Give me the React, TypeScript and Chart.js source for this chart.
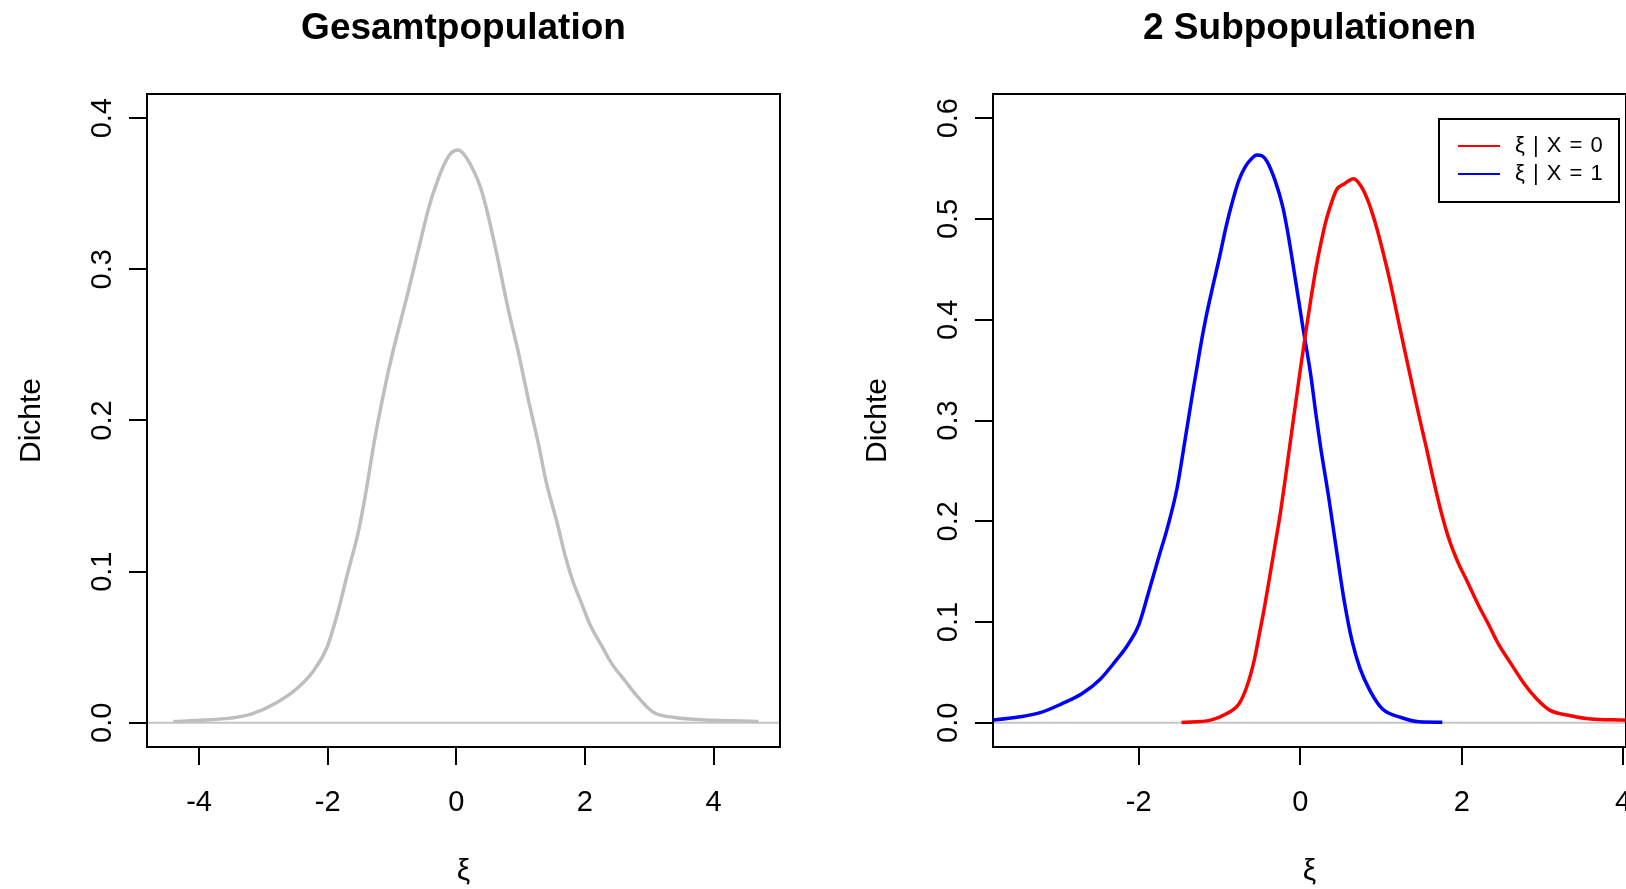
import React, { useEffect, useRef } from "react";
import { Chart, registerables } from "chart.js";

Chart.register(...registerables);

// ---------- data ----------
const grayX = [-4.4, -3.92, -3.52, -3.19, -2.79, -2.46, -2.22, -2.01, -1.85, -1.69, -1.52, -1.4, -1.28, -1.14, -1.0, -0.87, -0.75, -0.59, -0.42, -0.28, -0.17, -0.08, 0.03, 0.12, 0.26, 0.37, 0.47, 0.63, 0.8, 0.96, 1.12, 1.28, 1.4, 1.57, 1.69, 1.81, 1.93, 2.09, 2.26, 2.42, 2.62, 2.83, 3.07, 3.4, 3.88, 4.29, 4.7];
const grayY = [0.0008, 0.0018, 0.0031, 0.0058, 0.0135, 0.0234, 0.0345, 0.05, 0.072, 0.099, 0.127, 0.154, 0.185, 0.216, 0.243, 0.265, 0.285, 0.313, 0.342, 0.36, 0.371, 0.377, 0.379, 0.376, 0.366, 0.355, 0.34, 0.31, 0.275, 0.246, 0.214, 0.184, 0.159, 0.132, 0.111, 0.094, 0.081, 0.064, 0.051, 0.039, 0.028, 0.0168, 0.0068, 0.0035, 0.0018, 0.0013, 0.0009];

const blueX = [-3.95, -3.81, -3.47, -3.21, -2.96, -2.7, -2.48, -2.29, -2.13, -2.0, -1.876, -1.75, -1.65, -1.525, -1.43, -1.333, -1.238, -1.16, -1.08, -1.0, -0.919, -0.84, -0.761, -0.68, -0.6, -0.538, -0.47, -0.41, -0.315, -0.219, -0.155, -0.06, 0.036, 0.131, 0.195, 0.25, 0.354, 0.45, 0.545, 0.64, 0.736, 0.864, 1.02, 1.25, 1.47, 1.76];
const blueY = [0.0018, 0.0027, 0.006, 0.0103, 0.0186, 0.029, 0.043, 0.061, 0.078, 0.097, 0.13, 0.165, 0.192, 0.233, 0.279, 0.327, 0.372, 0.405, 0.434, 0.462, 0.492, 0.517, 0.538, 0.552, 0.56, 0.5635, 0.5625, 0.557, 0.539, 0.513, 0.487, 0.44, 0.391, 0.345, 0.306, 0.275, 0.223, 0.171, 0.121, 0.082, 0.055, 0.032, 0.0136, 0.0053, 0.001, 0.0006];

const redX = [-1.47, -1.11, -0.92, -0.76, -0.665, -0.57, -0.506, -0.442, -0.378, -0.315, -0.25, -0.187, -0.124, -0.06, 0.004, 0.068, 0.131, 0.195, 0.259, 0.322, 0.387, 0.45, 0.55, 0.66, 0.75, 0.84, 0.93, 1.02, 1.11, 1.2, 1.29, 1.38, 1.47, 1.565, 1.65, 1.74, 1.84, 1.95, 2.07, 2.2, 2.33, 2.456, 2.616, 2.776, 2.93, 3.09, 3.35, 3.6, 3.99, 4.3];
const redY = [0.0003, 0.0027, 0.0087, 0.0186, 0.035, 0.062, 0.088, 0.115, 0.145, 0.175, 0.206, 0.241, 0.278, 0.315, 0.352, 0.387, 0.42, 0.451, 0.477, 0.499, 0.516, 0.529, 0.535, 0.54, 0.533, 0.518, 0.496, 0.469, 0.439, 0.405, 0.371, 0.338, 0.305, 0.272, 0.241, 0.211, 0.183, 0.16, 0.14, 0.118, 0.098, 0.078, 0.058, 0.0385, 0.0236, 0.0126, 0.007, 0.0037, 0.0027, 0.0015];

const leftXTicks = [-4, -2, 0, 2, 4];
const leftYTicks = [0, 0.1, 0.2, 0.3, 0.4];
const rightXTicks = [-2, 0, 2, 4];
const rightYTicks = [0, 0.1, 0.2, 0.3, 0.4, 0.5, 0.6];

const leftTitle = "Gesamtpopulation";
const rightTitle = "2 Subpopulationen";
const xAxisLabel = "ξ";
const yAxisLabel = "Dichte";
const legendLabels = ["ξ | X = 0", "ξ | X = 1"];
const legendColors = ["#ff0000", "#0000ff"];

// ---------- drawing helpers ----------
const FONT = '"Liberation Sans", Arial, Helvetica, sans-serif';

function makePlugin(cfg: {
  title: string;
  xTicks: number[];
  yTicks: number[];
  legend: boolean;
}) {
  return {
    id: "rstyle",
    beforeDatasetsDraw(chart: any) {
      const ctx = chart.ctx;
      const ca = chart.chartArea;
      const y0 = chart.scales.y.getPixelForValue(0);
      ctx.save();
      ctx.strokeStyle = "#c4c4c4";
      ctx.lineWidth = 2;
      ctx.beginPath();
      ctx.moveTo(ca.left, y0);
      ctx.lineTo(ca.right, y0);
      ctx.stroke();
      ctx.restore();
    },
    afterDraw(chart: any) {
      const ctx = chart.ctx;
      const ca = chart.chartArea;
      const xs = chart.scales.x;
      const ys = chart.scales.y;
      ctx.save();
      // box
      ctx.strokeStyle = "#000";
      ctx.lineWidth = 2;
      ctx.strokeRect(ca.left, ca.top, ca.right - ca.left, ca.bottom - ca.top);
      // ticks
      ctx.beginPath();
      cfg.xTicks.forEach((v) => {
        const px = Math.round(xs.getPixelForValue(v));
        ctx.moveTo(px, ca.bottom);
        ctx.lineTo(px, ca.bottom + 18);
      });
      cfg.yTicks.forEach((v) => {
        const py = Math.round(ys.getPixelForValue(v));
        ctx.moveTo(ca.left, py);
        ctx.lineTo(ca.left - 18, py);
      });
      ctx.stroke();
      ctx.fillStyle = "#000";
      // x tick labels
      ctx.font = `29px ${FONT}`;
      ctx.textAlign = "center";
      ctx.textBaseline = "alphabetic";
      cfg.xTicks.forEach((v) => {
        ctx.fillText(String(v), xs.getPixelForValue(v), ca.bottom + 64);
      });
      // y tick labels (rotated)
      cfg.yTicks.forEach((v) => {
        ctx.save();
        ctx.translate(ca.left - 36, ys.getPixelForValue(v));
        ctx.rotate(-Math.PI / 2);
        ctx.fillText(v.toFixed(1), 0, 0);
        ctx.restore();
      });
      // axis titles
      ctx.font = `30px ${FONT}`;
      ctx.fillText(xAxisLabel, (ca.left + ca.right) / 2, ca.bottom + 133);
      ctx.save();
      ctx.translate(ca.left - 107, (ca.top + ca.bottom) / 2);
      ctx.rotate(-Math.PI / 2);
      ctx.fillText(yAxisLabel, 0, 0);
      ctx.restore();
      // main title
      ctx.font = `bold 37px ${FONT}`;
      ctx.fillText(cfg.title, (ca.left + ca.right) / 2, 39);
      // legend
      if (cfg.legend) {
        const lw = 180;
        const lh = 83;
        const lx = ca.right - 7 - lw;
        const ly = ca.top + 25;
        ctx.fillStyle = "#fff";
        ctx.fillRect(lx, ly, lw, lh);
        ctx.strokeStyle = "#000";
        ctx.lineWidth = 2;
        ctx.strokeRect(lx, ly, lw, lh);
        ctx.font = `22px ${FONT}`;
        try {
          (ctx as any).letterSpacing = "1px";
        } catch (e) {}
        ctx.textAlign = "left";
        ctx.textBaseline = "middle";
        legendLabels.forEach((lab, i) => {
          const ry = ly + 27 + i * 28;
          ctx.strokeStyle = legendColors[i];
          ctx.lineWidth = 2;
          ctx.beginPath();
          ctx.moveTo(lx + 19, ry);
          ctx.lineTo(lx + 61, ry);
          ctx.stroke();
          ctx.fillStyle = "#000";
          ctx.fillText(lab, lx + 76, ry);
        });
        try {
          (ctx as any).letterSpacing = "0px";
        } catch (e) {}
      }
      ctx.restore();
    },
  };
}

function toPoints(xs: number[], ys: number[]) {
  return xs.map((x, i) => ({ x, y: ys[i] }));
}

const lineStyle = {
  borderWidth: 3.5,
  pointRadius: 0,
  cubicInterpolationMode: "monotone" as const,
  clip: 0,
  fill: false,
};

const PADDING = { left: 147, right: 66, top: 94, bottom: 142 };

function baseOptions(xmin: number, xmax: number, ymin: number, ymax: number) {
  return {
    animation: false as const,
    responsive: false,
    devicePixelRatio: 1,
    events: [] as any[],
    layout: { padding: PADDING },
    scales: {
      x: { type: "linear" as const, min: xmin, max: xmax, display: false },
      y: { type: "linear" as const, min: ymin, max: ymax, display: false },
    },
    plugins: {
      legend: { display: false },
      tooltip: { enabled: false },
      title: { display: false },
    },
  };
}

export default function App() {
  const leftRef = useRef<HTMLCanvasElement>(null);
  const rightRef = useRef<HTMLCanvasElement>(null);

  useEffect(() => {
    document.body.style.margin = "0";
    const left = new Chart(leftRef.current as HTMLCanvasElement, {
      type: "line",
      data: {
        datasets: [
          {
            label: "Gesamtpopulation",
            data: toPoints(grayX, grayY),
            borderColor: "#bebebe",
            ...lineStyle,
          } as any,
        ],
      },
      options: baseOptions(-4.81, 5.034, -0.016, 0.416) as any,
      plugins: [makePlugin({ title: leftTitle, xTicks: leftXTicks, yTicks: leftYTicks, legend: false })],
    });
    const right = new Chart(rightRef.current as HTMLCanvasElement, {
      type: "line",
      data: {
        datasets: [
          {
            label: legendLabels[0],
            data: toPoints(redX, redY),
            borderColor: legendColors[0],
            ...lineStyle,
          } as any,
          {
            label: legendLabels[1],
            data: toPoints(blueX, blueY),
            borderColor: legendColors[1],
            ...lineStyle,
          } as any,
        ],
      },
      options: baseOptions(-3.805, 4.035, -0.024, 0.624) as any,
      plugins: [makePlugin({ title: rightTitle, xTicks: rightXTicks, yTicks: rightYTicks, legend: true })],
    });
    return () => {
      left.destroy();
      right.destroy();
    };
  }, []);

  return (
    <div
      style={{
        position: "fixed",
        left: 0,
        top: 0,
        width: 1626,
        height: 889,
        overflow: "hidden",
        background: "#fff",
      }}
    >
      <canvas
        ref={leftRef}
        width={846}
        height={889}
        style={{ position: "absolute", left: 0, top: 0, width: 846, height: 889 }}
      />
      <canvas
        ref={rightRef}
        width={846}
        height={889}
        style={{ position: "absolute", left: 846, top: 0, width: 846, height: 889 }}
      />
    </div>
  );
}
